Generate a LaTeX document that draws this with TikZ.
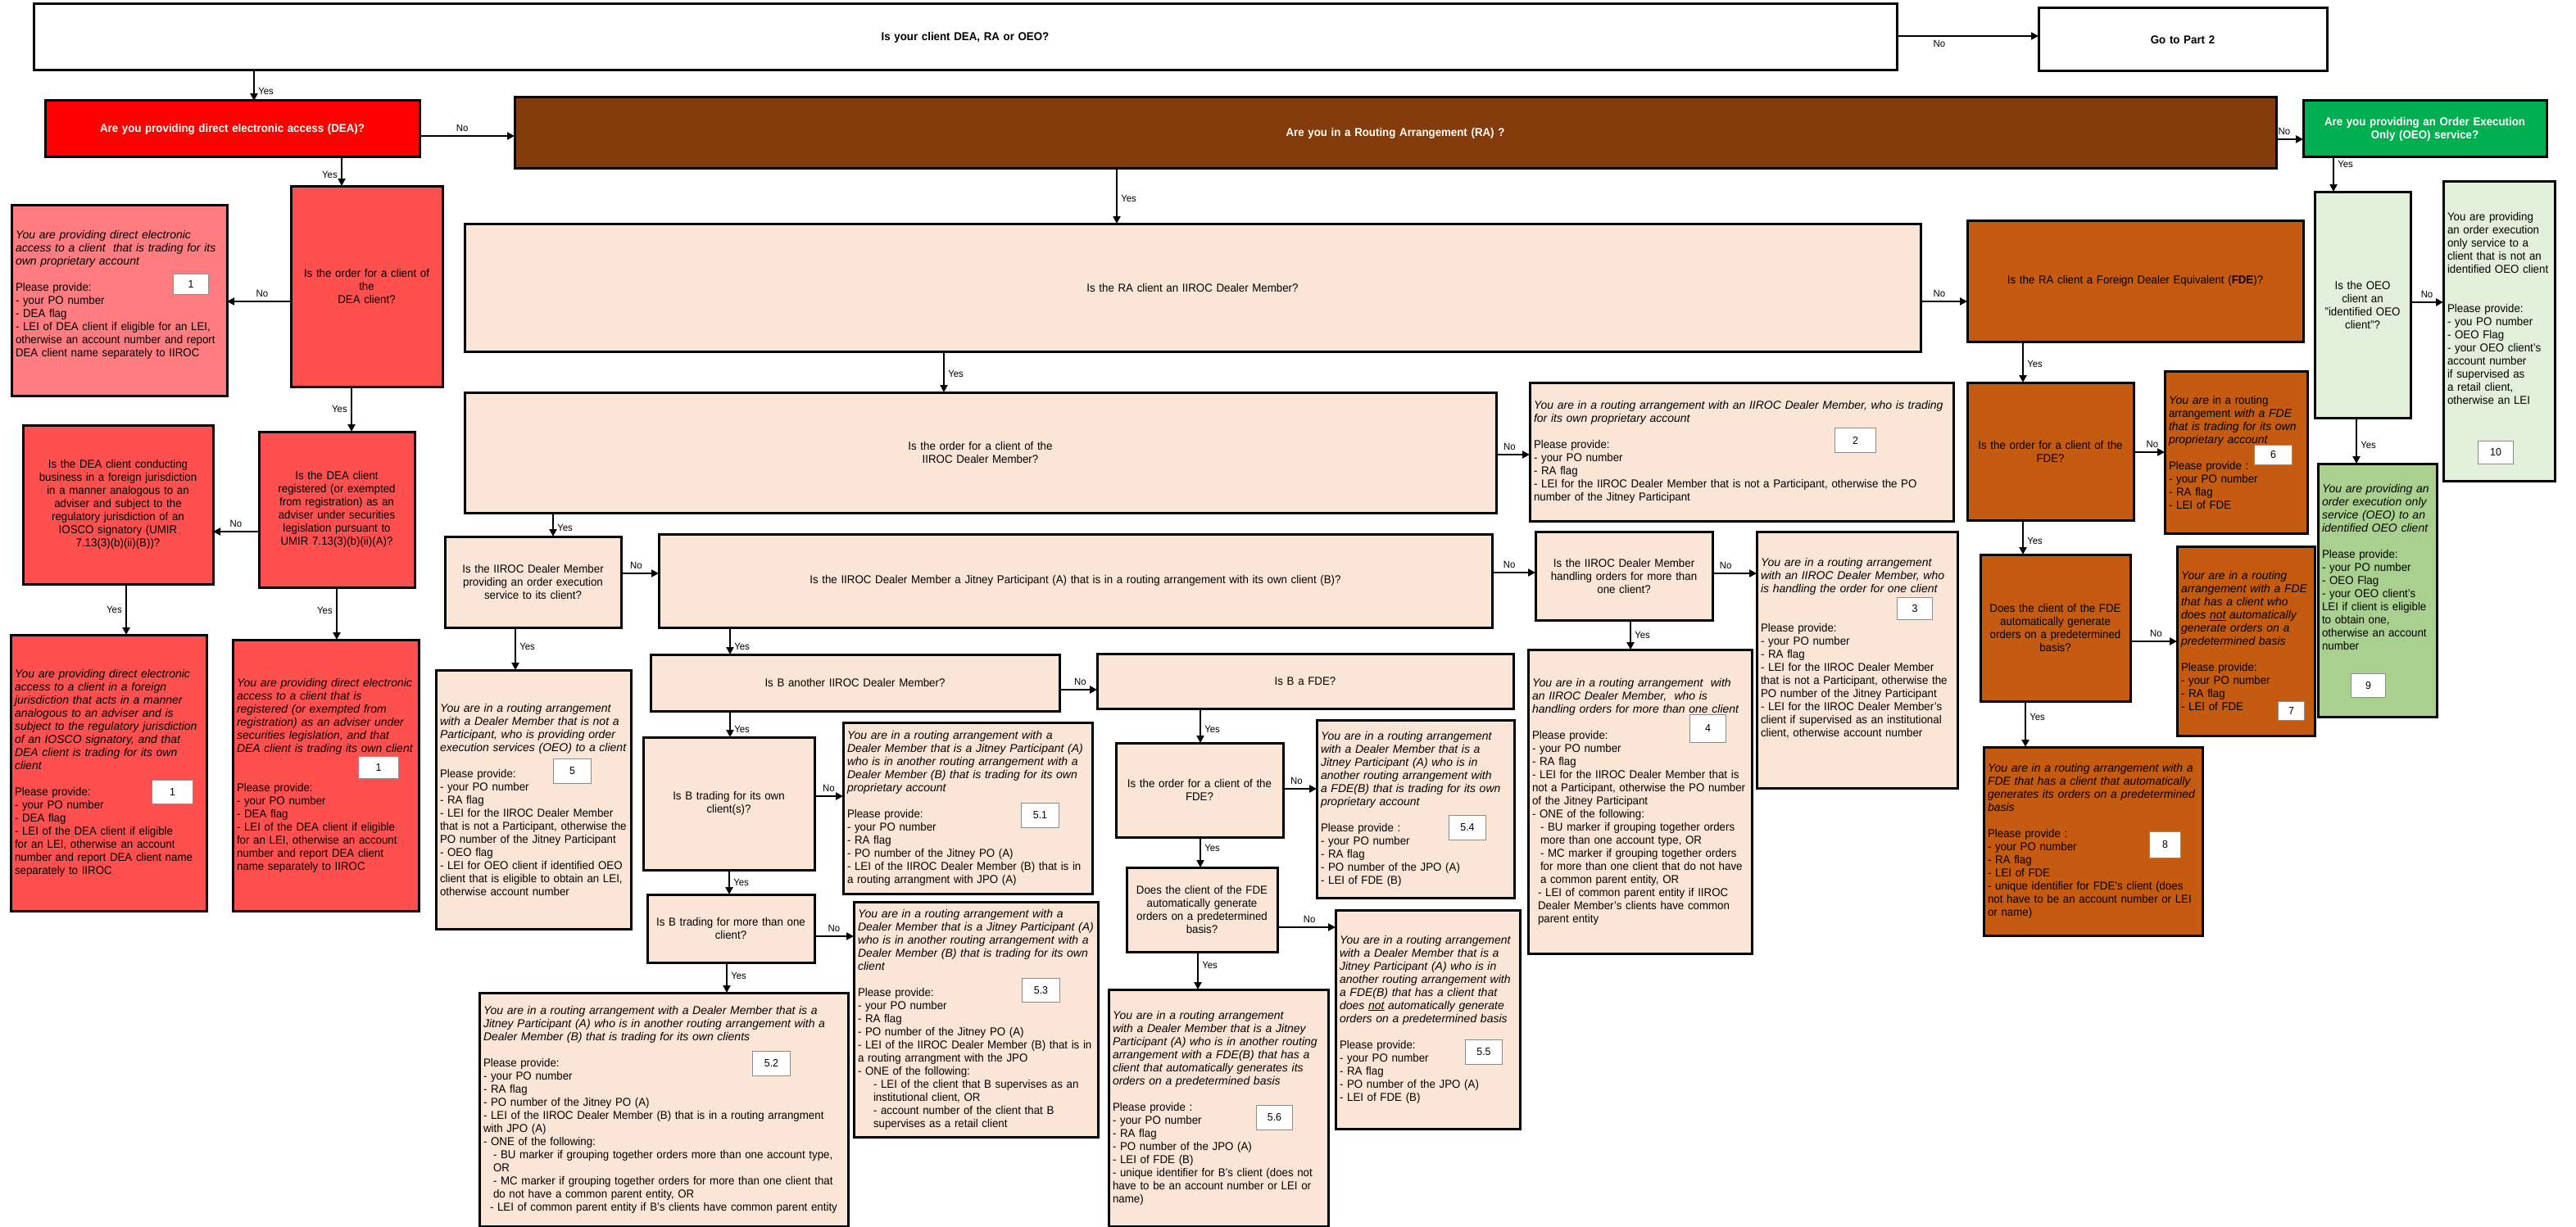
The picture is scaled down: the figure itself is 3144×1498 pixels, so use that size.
\documentclass[tikz,border=0pt]{standalone}
\usepackage{fontspec}
\setmainfont{Liberation Sans}[
    UprightFeatures={FakeStretch=0.95},
    BoldFeatures={FakeStretch=0.95},
    ItalicFeatures={FakeStretch=1.0},
    BoldItalicFeatures={FakeStretch=1.0}]
\usetikzlibrary{arrows.meta}
\definecolor{deared}{RGB}{255,0,0}
\definecolor{deasub}{RGB}{255,80,80}
\definecolor{deapink}{RGB}{255,124,128}
\definecolor{rabrown}{RGB}{132,60,12}
\definecolor{rapeach}{RGB}{251,229,214}
\definecolor{fdeorange}{RGB}{197,90,17}
\definecolor{oeogreen}{RGB}{0,176,80}
\definecolor{oeopale}{RGB}{226,239,218}
\definecolor{oeoleaf}{RGB}{169,208,142}
\hyphenpenalty=10000
\exhyphenpenalty=10000
\newcommand{\subln}[2]{\par{\parindent=0pt\leftskip=#1\relax #2\par}}

\begin{document}
\begin{tikzpicture}[x=1pt, y=-1pt]
            \tikzstyle{box} = [draw, line width=3pt, anchor=north west, inner xsep=5pt, inner ysep=2pt, outer sep=0pt, font=\fontsize{14}{16}\selectfont]
            \tikzstyle{ques} = [box, align=center]
            \tikzstyle{info} = [box, align=left]
            \tikzstyle{tag} = [draw=black!45, line width=1pt, fill=white, anchor=north west, inner sep=0pt, font=\fontsize{13}{15}\selectfont]
            \tikzstyle{arr} = [line width=2.5pt, -{Triangle[length=9pt, width=9pt]}]
            \tikzstyle{lbl} = [font=\fontsize{12}{14}\selectfont, inner sep=4pt]

            \useasboundingbox (0,0) rectangle (3144,1498);

            % top row
            \node[ques, text width=2264pt, minimum height=81pt] (qtop) at (41,5)
                {\textbf{Is your client DEA, RA or OEO?}};
            \node[ques, text width=342pt, minimum height=77pt] (go2) at (2488,10)
                {\textbf{Go to Part 2}};
            \node[ques, fill=deared, text=white, text width=447pt, minimum height=69pt] (dea) at (55,123)
                {\textbf{Are you providing direct electronic access (DEA)?}};
            \node[ques, fill=rabrown, text=white, text width=2140pt, minimum height=87pt] (ra) at (628,119)
                {\textbf{Are you in a Routing Arrangement (RA) ?}};
            \node[ques, fill=oeogreen, text=white, text width=287pt, minimum height=69pt] (oeo) at (2811,123)
                {\textbf{Are you providing an Order Execution}\\\textbf{Only (OEO) service?}};

            % DEA branch
            \node[ques, fill=deasub, text width=175pt, minimum height=245pt] (qdeaorder) at (355,227)
                {Is the order for a client of\\the\\DEA client?};
            \node[info, fill=deapink, text width=253pt, minimum height=233pt] (b1) at (14,250)
                {\textit{You are providing direct electronic access to a client\ \ that is trading for its own proprietary account}\\[16pt]
                 Please provide:\\- your PO number\\- DEA flag\\- LEI of DEA client if eligible for an LEI, otherwise an account number and report DEA client name separately to IIROC\\[0pt]\mbox{}};
            \node[ques, fill=deasub, text width=180pt, minimum height=190pt] (qreg) at (316,527)
                {Is the DEA client\\registered (or exempted\\from registration) as an\\adviser under securities\\legislation pursuant to\\UMIR 7.13(3)(b)(ii)(A)?};
            \node[ques, fill=deasub, text width=222pt, minimum height=194pt] (qforeign) at (28,519)
                {Is the DEA client conducting\\business in a foreign jurisdiction\\in a manner analogous to an\\adviser and subject to the\\regulatory jurisdiction of an\\IOSCO signatory (UMIR\\7.13(3)(b)(ii)(B))?};
            \node[info, fill=deasub, text width=229pt, minimum height=337pt] (b1a) at (13,775)
                {\textit{You are providing direct electronic access to a client in a foreign jurisdiction that acts in a manner analogous to an adviser and is subject to the regulatory jurisdiction of an IOSCO signatory, and that DEA client is trading for its own client}\\[16pt]
                 Please provide:\\- your PO number\\- DEA flag\\- LEI of the DEA client if eligible for an LEI, otherwise an account number and report DEA client name separately to IIROC};
            \node[info, fill=deasub, text width=217pt, minimum height=331pt] (b1b) at (284,781)
                {\textit{You are providing direct electronic access to a client that is registered (or exempted from registration) as an adviser under securities legislation, and that DEA client is trading its own client}\\[32pt]
                 Please provide:\\- your PO number\\- DEA flag\\- LEI of the DEA client if eligible for an LEI, otherwise an account number and report DEA client name separately to IIROC};

            % RA branch, IIROC Dealer Member
            \node[ques, fill=rapeach, text width=1767pt, minimum height=156pt] (qradm) at (567,273)
                {Is the RA client an IIROC Dealer Member?};
            \node[ques, fill=rapeach, text width=1249pt, minimum height=147pt] (qorderdm) at (567,479)
                {Is the order for a client of the\\IIROC Dealer Member?};
            \node[info, fill=rapeach, text width=507pt, minimum height=169pt] (b2) at (1867,467)
                {\textit{You are in a routing arrangement with an IIROC Dealer Member, who is trading for its own proprietary account}\\[16pt]
                 Please provide:\\- your PO number\\- RA flag\\- LEI for the IIROC Dealer Member that is not a Participant, otherwise the PO number of the Jitney Participant};
            \node[ques, fill=rapeach, text width=205pt, minimum height=111pt] (qoes) at (543,655)
                {Is the IIROC Dealer Member\\providing an order execution\\service to its client?};
            \node[ques, fill=rapeach, text width=1007pt, minimum height=114pt] (qjit) at (804,652)
                {Is the IIROC Dealer Member a Jitney Participant (A) that is in a routing arrangement with its own client (B)?};
            \node[ques, fill=rapeach, text width=206pt, minimum height=108pt] (qmulti) at (1874,649)
                {Is the IIROC Dealer Member\\handling orders for more than\\one client?};
            \node[info, fill=rapeach, text width=235pt, minimum height=313pt] (b3) at (2144,649)
                {\textit{You are in a routing arrangement with an IIROC Dealer Member, who is handling the order for one client}\\[32pt]
                 Please provide:\\- your PO number\\- RA flag\\- LEI for the IIROC Dealer Member that is not a Participant, otherwise the PO number of the Jitney Participant\\- LEI for the IIROC Dealer Member's client if supervised as an institutional client, otherwise account number\\[14pt]\mbox{}};
            \node[info, fill=rapeach, text width=263pt, minimum height=371pt] (b4) at (1865,793)
                {\textit{You are in a routing arrangement\ \ with an IIROC Dealer Member,\ \ who is handling orders for more than one client}\\[16pt]
                 Please provide:\\- your PO number\\- RA flag\\- LEI for the IIROC Dealer Member that is not a Participant, otherwise the PO number of the Jitney Participant\\- ONE of the following:
                 \subln{10pt}{- BU marker if grouping together orders more than one account type, OR}
                 \subln{10pt}{- MC marker if grouping together orders for more than one client that do not have a common parent entity, OR}
                 \subln{7pt}{- LEI of common parent entity if IIROC Dealer Member's clients have common parent entity}};
            \node[info, fill=rapeach, text width=228pt, minimum height=316pt] (b5) at (532,818)
                {\textit{You are in a routing arrangement with a Dealer Member that is not a Participant, who is providing order execution services (OEO) to a client}\\[16pt]
                 Please provide:\\- your PO number\\- RA flag\\- LEI for the IIROC Dealer Member that is not a Participant, otherwise the PO number of the Jitney Participant\\- OEO flag\\- LEI for OEO client if identified OEO client that is eligible to obtain an LEI, otherwise account number};

            % Jitney branch
            \node[ques, fill=rapeach, text width=489pt, minimum height=69pt] (qbdm) at (794,799)
                {Is B another IIROC Dealer Member?};
            \node[ques, fill=rapeach, text width=498pt, minimum height=67pt] (qbfde) at (1339,798)
                {Is B a FDE?};
            \node[ques, fill=rapeach, text width=199pt, minimum height=162pt] (qown) at (785,900)
                {Is B trading for its own\\client(s)?};
            \node[info, fill=rapeach, text width=294pt, minimum height=209pt] (b51) at (1029,882)
                {\textit{You are in a routing arrangement with a Dealer Member that is a Jitney Participant (A) who is in another routing arrangement with a Dealer Member (B) that is trading for its own proprietary account}\\[16pt]
                 Please provide:\\- your PO number\\- RA flag\\- PO number of the Jitney PO (A)\\- LEI of the IIROC Dealer Member (B) that is in a routing arrangment with JPO (A)};
            \node[ques, fill=rapeach, text width=194pt, minimum height=83pt] (qmore) at (790,1092)
                {Is B trading for more than one\\client?};
            \node[info, fill=rapeach, text width=288pt, minimum height=287pt] (b53) at (1042,1101)
                {\textit{You are in a routing arrangement with a Dealer Member that is a Jitney Participant (A) who is in another routing arrangement with a Dealer Member (B) that is trading for its own client}\\[16pt]
                 Please provide:\\- your PO number\\- RA flag\\- PO number of the Jitney PO (A)\\- LEI of the IIROC Dealer Member (B) that is in a routing arrangment with the JPO\\- ONE of the following:
                 \subln{19pt}{- LEI of the client that B supervises as an institutional client, OR}
                 \subln{19pt}{- account number of the client that B supervises as a retail client}};
            \node[info, fill=rapeach, text width=440pt, minimum height=285pt] (b52) at (585,1212)
                {\textit{You are in a routing arrangement with a Dealer Member that is a Jitney Participant (A) who is in another routing arrangement with a Dealer Member (B) that is trading for its own clients}\\[16pt]
                 Please provide:\\- your PO number\\- RA flag\\- PO number of the Jitney PO (A)\\- LEI of the IIROC Dealer Member (B) that is in a routing arrangment with JPO (A)\\- ONE of the following:
                 \subln{12pt}{- BU marker if grouping together orders more than one account type, OR}
                 \subln{12pt}{- MC marker if grouping together orders for more than one client that do not have a common parent entity, OR}
                 \subln{8pt}{- LEI of common parent entity if B's clients have common parent entity}};
            \node[ques, fill=rapeach, text width=194pt, minimum height=115pt] (qbfdeorder) at (1362,907)
                {Is the order for a client of the\\FDE?};
            \node[info, fill=rapeach, text width=231pt, minimum height=217pt] (b54) at (1607,879)
                {\textit{You are in a routing arrangement with a Dealer Member that is a Jitney Participant (A) who is in another routing arrangement with a FDE(B) that is trading for its own proprietary account}\\[16pt]
                 Please provide :\\- your PO number\\- RA flag\\- PO number of the JPO (A)\\- LEI of FDE (B)};
            \node[ques, fill=rapeach, text width=174pt, minimum height=103pt] (qbauto) at (1375,1059)
                {Does the client of the FDE\\automatically generate\\orders on a predetermined\\basis?};
            \node[info, fill=rapeach, text width=215pt, minimum height=267pt] (b55) at (1630,1111)
                {\textit{You are in a routing arrangement with a Dealer Member that is a Jitney Participant (A) who is in another routing arrangement with a FDE(B) that has a client that does \underline{not} automatically generate orders on a predetermined basis}\\[16pt]
                 Please provide:\\- your PO number\\- RA flag\\- PO number of the JPO (A)\\- LEI of FDE (B)};
            \node[info, fill=rapeach, text width=258pt, minimum height=289pt] (b56) at (1353,1208)
                {\textit{You are in a routing arrangement with a Dealer Member that is a Jitney Participant (A) who is in another routing arrangement with a FDE(B) that has a client that automatically generates its orders on a predetermined basis}\\[16pt]
                 Please provide :\\- your PO number\\- RA flag\\- PO number of the JPO (A)\\- LEI of FDE (B)\\- unique identifier for B's client (does not have to be an account number or LEI or name)};

            % FDE branch
            \node[ques, fill=fdeorange, text width=400pt, minimum height=148pt] (qfde) at (2401,269)
                {Is the RA client a Foreign Dealer Equivalent (\textbf{FDE})?};
            \node[ques, fill=fdeorange, text width=193pt, minimum height=168pt] (qfdeorder) at (2401,467)
                {Is the order for a client of the\\FDE?};
            \node[info, fill=fdeorange, text width=164pt, minimum height=198pt] (b6) at (2642,453)
                {\textit{You are} in a routing arrangement \textit{with a FDE that is trading for its own proprietary account}\\[16pt]
                 Please provide :\\- your PO number\\- RA flag\\- LEI of FDE};
            \node[ques, fill=fdeorange, text width=173pt, minimum height=179pt] (qauto) at (2417,677)
                {Does the client of the FDE\\automatically generate\\orders on a predetermined\\basis?};
            \node[info, fill=fdeorange, text width=158pt, minimum height=231pt] (b7) at (2657,667)
                {\textit{Your are in a routing arrangement with a FDE that has a client who does \underline{not} automatically generate orders on a predetermined basis}\\[16pt]
                 Please provide:\\- your PO number\\- RA flag\\- LEI of FDE};
            \node[info, fill=fdeorange, text width=257pt, minimum height=230pt] (b8) at (2421,912)
                {\textit{You are in a routing arrangement with a FDE that has a client that automatically generates its orders on a predetermined basis}\\[16pt]
                 Please provide :\\- your PO number\\- RA flag\\- LEI of FDE\\- unique identifier for FDE's client (does not have to be an account number or LEI or name)};

            % OEO branch
            \node[ques, fill=oeopale, text width=107pt, minimum height=276pt] (oeoq) at (2825,234)
                {Is the OEO\\client an\\"identified OEO\\client"?};
            \node[info, fill=oeopale, text width=126pt, minimum height=366pt] (b10) at (2982,221)
                {You are providing an order execution only service to a client that is not an identified OEO client\\[32pt]
                 Please provide:\\- you PO number\\- OEO Flag\\- your OEO client's account number if supervised as a retail client, otherwise an LEI\\[40pt]\mbox{}};
            \node[info, fill=oeoleaf, text width=135pt, minimum height=309pt] (b9) at (2829,566)
                {\textit{You are providing an order execution only service (OEO) to an identified OEO client}\\[16pt]
                 Please provide:\\- your PO number\\- OEO Flag\\- your OEO client's LEI if client is eligible to obtain one, otherwise an account number\\[40pt]\mbox{}};

            % reference numbers
            \node[tag, minimum width=43pt, minimum height=25pt] (t1) at (211,334) {1};
            \node[tag, minimum width=50pt, minimum height=29pt] (t1a) at (185,952) {1};
            \node[tag, minimum width=49pt, minimum height=27pt] (t1b) at (437,923) {1};
            \node[tag, minimum width=50pt, minimum height=30pt] (t2) at (2239,522) {2};
            \node[tag, minimum width=43pt, minimum height=27pt] (t3) at (2315,729) {3};
            \node[tag, minimum width=44pt, minimum height=34pt] (t4) at (2062,872) {4};
            \node[tag, minimum width=46pt, minimum height=30pt] (t5) at (675,926) {5};
            \node[tag, minimum width=46pt, minimum height=30pt] (t51) at (1246,980) {5.1};
            \node[tag, minimum width=46pt, minimum height=30pt] (t52) at (918,1283) {5.2};
            \node[tag, minimum width=46pt, minimum height=29pt] (t53) at (1247,1194) {5.3};
            \node[tag, minimum width=45pt, minimum height=30pt] (t54) at (1768,995) {5.4};
            \node[tag, minimum width=45pt, minimum height=30pt] (t55) at (1788,1269) {5.5};
            \node[tag, minimum width=44pt, minimum height=30pt] (t56) at (1533,1349) {5.6};
            \node[tag, minimum width=46pt, minimum height=24pt] (t6) at (2751,543) {6};
            \node[tag, minimum width=32pt, minimum height=23pt] (t7) at (2780,856) {7};
            \node[tag, minimum width=38pt, minimum height=32pt] (t8) at (2623,1015) {8};
            \node[tag, minimum width=42pt, minimum height=29pt] (t9) at (2869,822) {9};
            \node[tag, minimum width=43pt, minimum height=28pt] (t10) at (3024,538) {10};

            % connectors
            \draw[arr] (qtop.south -| 310,0) -- (dea.north -| 310,0)
                node[lbl, right, pos=0.7] {Yes};
            \draw[arr] (qtop.east |- 0,44) -- (go2.west |- 0,44)
                node[lbl, below, pos=0.3] {No};
            \draw[arr] (dea.east |- 0,166) -- (ra.west |- 0,166)
                node[lbl, above, pos=0.45] {No};
            \draw[arr] (ra.east |- 0,170) -- (oeo.west |- 0,170)
                node[lbl, above, pos=0.3] {No};
            \draw[arr] (oeo.south -| 2848,0) -- (oeoq.north -| 2848,0)
                node[lbl, right, pos=0.2] {Yes};
            \draw[arr] (oeoq.east |- 0,369) -- (b10.west |- 0,369)
                node[lbl, above, pos=0.5] {No};
            \draw[arr] (oeoq.south -| 2876,0) -- (b9.north -| 2876,0)
                node[lbl, right, pos=0.6] {Yes};

            \draw[arr] (dea.south -| 417,0) -- (qdeaorder.north -| 417,0)
                node[lbl, left, pos=0.6] {Yes};
            \draw[arr] (qdeaorder.west |- 0,368) -- (b1.east |- 0,368)
                node[lbl, above, pos=0.45] {No};
            \draw[arr] (qdeaorder.south -| 429,0) -- (qreg.north -| 429,0)
                node[lbl, left, pos=0.5] {Yes};
            \draw[arr] (qreg.west |- 0,649) -- (qforeign.east |- 0,649)
                node[lbl, above, pos=0.5] {No};
            \draw[arr] (qforeign.south -| 154,0) -- (b1a.north -| 154,0)
                node[lbl, left, pos=0.5] {Yes};
            \draw[arr] (qreg.south -| 411,0) -- (b1b.north -| 411,0)
                node[lbl, left, pos=0.45] {Yes};

            \draw[arr] (ra.south -| 1363,0) -- (qradm.north -| 1363,0)
                node[lbl, right, pos=0.55] {Yes};
            \draw[arr] (qradm.east |- 0,368) -- (qfde.west |- 0,368)
                node[lbl, above, pos=0.4] {No};
            \draw[arr] (qfde.south -| 2469,0) -- (qfdeorder.north -| 2469,0)
                node[lbl, right, pos=0.55] {Yes};
            \draw[arr] (qfdeorder.east |- 0,552) -- (b6.west |- 0,552)
                node[lbl, above, pos=0.6] {No};
            \draw[arr] (qfdeorder.south -| 2469,0) -- (qauto.north -| 2469,0)
                node[lbl, right, pos=0.6] {Yes};
            \draw[arr] (qauto.east |- 0,783) -- (b7.west |- 0,783)
                node[lbl, above, pos=0.55] {No};
            \draw[arr] (qauto.south -| 2472,0) -- (b8.north -| 2472,0)
                node[lbl, right, pos=0.35] {Yes};

            \draw[arr] (qradm.south -| 1152,0) -- (qorderdm.north -| 1152,0)
                node[lbl, right, pos=0.55] {Yes};
            \draw[arr] (qorderdm.east |- 0,555) -- (b2.west |- 0,555)
                node[lbl, above, pos=0.4] {No};
            \draw[arr] (qorderdm.south -| 675,0) -- (qoes.north -| 675,0)
                node[lbl, right, pos=0.65] {Yes};
            \draw[arr] (qoes.east |- 0,700) -- (qjit.west |- 0,700)
                node[lbl, above, pos=0.4] {No};
            \draw[arr] (qjit.east |- 0,699) -- (qmulti.west |- 0,699)
                node[lbl, above, pos=0.4] {No};
            \draw[arr] (qmulti.east |- 0,700) -- (b3.west |- 0,700)
                node[lbl, above, pos=0.3] {No};
            \draw[arr] (qmulti.south -| 1990,0) -- (b4.north -| 1990,0)
                node[lbl, right, pos=0.5] {Yes};
            \draw[arr] (qoes.south -| 629,0) -- (b5.north -| 629,0)
                node[lbl, right, pos=0.45] {Yes};

            \draw[arr] (qjit.south -| 891,0) -- (qbdm.north -| 891,0)
                node[lbl, right, pos=0.7] {Yes};
            \draw[arr] (qbdm.east |- 0,842) -- (qbfde.west |- 0,842)
                node[lbl, above, pos=0.55] {No};
            \draw[arr] (qbdm.south -| 891,0) -- (qown.north -| 891,0)
                node[lbl, right, pos=0.7] {Yes};
            \draw[arr] (qown.east |- 0,972) -- (b51.west |- 0,972)
                node[lbl, above, pos=0.5] {No};
            \draw[arr] (qown.south -| 890,0) -- (qmore.north -| 890,0)
                node[lbl, right, pos=0.5] {Yes};
            \draw[arr] (qmore.east |- 0,1143) -- (b53.west |- 0,1143)
                node[lbl, above, pos=0.5] {No};
            \draw[arr] (qmore.south -| 887,0) -- (b52.north -| 887,0)
                node[lbl, right, pos=0.45] {Yes};

            \draw[arr] (qbfde.south -| 1465,0) -- (qbfdeorder.north -| 1465,0)
                node[lbl, right, pos=0.6] {Yes};
            \draw[arr] (qbfdeorder.east |- 0,963) -- (b54.west |- 0,963)
                node[lbl, above, pos=0.4] {No};
            \draw[arr] (qbfdeorder.south -| 1465,0) -- (qbauto.north -| 1465,0)
                node[lbl, right, pos=0.35] {Yes};
            \draw[arr] (qbauto.east |- 0,1132) -- (b55.west |- 0,1132)
                node[lbl, above, pos=0.55] {No};
            \draw[arr] (qbauto.south -| 1462,0) -- (b56.north -| 1462,0)
                node[lbl, right, pos=0.35] {Yes};
\end{tikzpicture}
\end{document}
